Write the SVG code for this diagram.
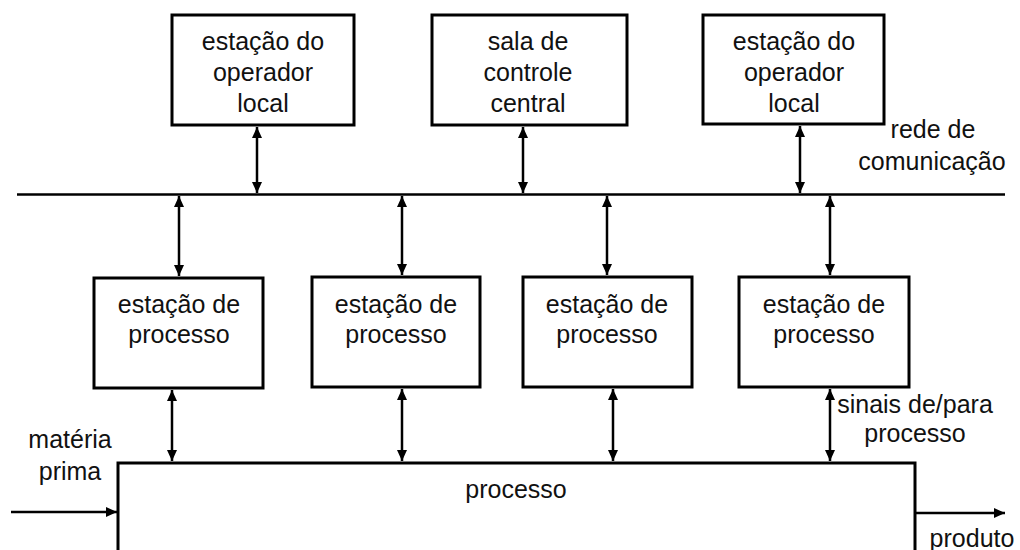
<svg xmlns="http://www.w3.org/2000/svg" width="1020" height="550" viewBox="0 0 1020 550">
<style>
.box{fill:#fff;stroke:#000;stroke-width:3}
.ln{stroke:#000;stroke-width:2.5;fill:none}
.ar{stroke:#000;stroke-width:2.5;fill:none;marker-start:url(#ah);marker-end:url(#ah)}
.ar1{stroke:#000;stroke-width:2.5;fill:none;marker-end:url(#ah)}
text{font-family:"Liberation Sans",Arial,sans-serif;font-size:25px;fill:#111;text-anchor:middle}
</style>
<defs>
<marker id="ah" markerUnits="userSpaceOnUse" markerWidth="12" markerHeight="12" refX="11" refY="5" orient="auto-start-reverse" viewBox="0 0 12 10">
<path d="M0,0 L11,5 L0,10 z" fill="#000"/>
</marker>
</defs>
<rect width="1020" height="550" fill="#fff"/>
<g id="op1"><rect class="box" x="172" y="15" width="182" height="110"/><text x="263" y="50">estação do</text><text x="263" y="81">operador</text><text x="263" y="112">local</text></g>
<g id="central"><rect class="box" x="432" y="15" width="195" height="110"/><text x="528" y="50">sala de</text><text x="528" y="81">controle</text><text x="528" y="112">central</text></g>
<g id="op2"><rect class="box" x="703" y="15" width="181" height="109"/><text x="794" y="50">estação do</text><text x="794" y="81">operador</text><text x="794" y="112">local</text></g>
<g id="ep1"><rect class="box" x="94" y="278" width="169" height="110"/><text x="179" y="313">estação de</text><text x="179" y="343">processo</text></g>
<g id="ep2"><rect class="box" x="312" y="277" width="168" height="110"/><text x="396" y="313">estação de</text><text x="396" y="343">processo</text></g>
<g id="ep3"><rect class="box" x="523" y="277" width="169" height="110"/><text x="607" y="313">estação de</text><text x="607" y="343">processo</text></g>
<g id="ep4"><rect class="box" x="739" y="277" width="170" height="110"/><text x="824" y="313">estação de</text><text x="824" y="343">processo</text></g>
<g id="processo"><rect class="box" x="118" y="463" width="797" height="110"/><text x="516" y="498">processo</text></g>
<g id="labels">
<text x="933" y="138">rede de</text><text x="932" y="170">comunicação</text>
<text x="915" y="413">sinais de/para</text><text x="915" y="442">processo</text>
<text x="70" y="448">matéria</text><text x="70" y="480">prima</text>
<text x="972" y="547">produto</text>
</g>
<g id="connectors">
<line class="ln" x1="17" y1="194.5" x2="1005" y2="194.5"/>
<line class="ar" x1="257" y1="127" x2="257" y2="193"/>
<line class="ar" x1="523" y1="127" x2="523" y2="193"/>
<line class="ar" x1="800" y1="126" x2="800" y2="193"/>
<line class="ar" x1="179" y1="196" x2="179" y2="276"/>
<line class="ar" x1="402" y1="196" x2="402" y2="275"/>
<line class="ar" x1="607" y1="196" x2="607" y2="275"/>
<line class="ar" x1="830" y1="196" x2="830" y2="275"/>
<line class="ar" x1="172" y1="390" x2="172" y2="461"/>
<line class="ar" x1="402" y1="389" x2="402" y2="461"/>
<line class="ar" x1="613" y1="389" x2="613" y2="461"/>
<line class="ar" x1="830" y1="389" x2="830" y2="461"/>
<line class="ar1" x1="11" y1="512" x2="117" y2="512"/>
<line class="ar1" x1="916" y1="513" x2="1005" y2="513"/>
</g>
</svg>
